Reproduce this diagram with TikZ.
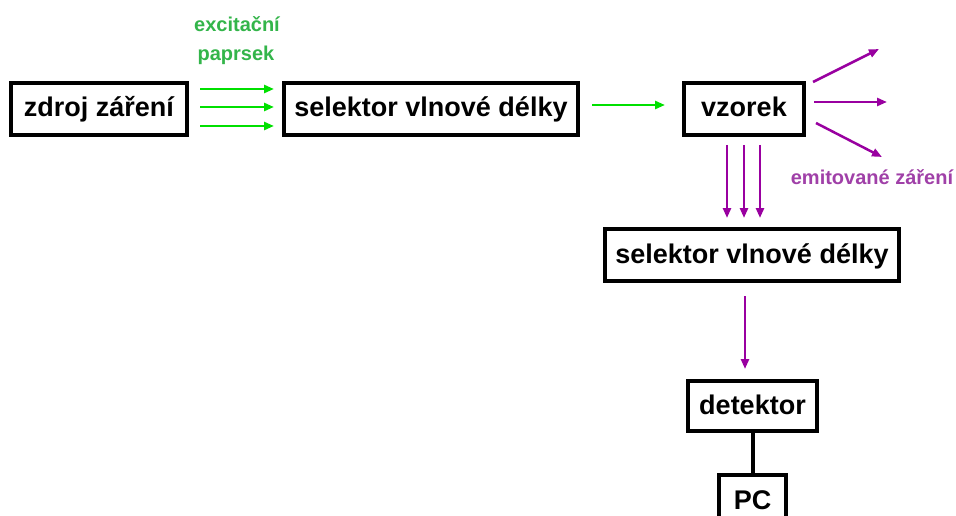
\documentclass[tikz,border=0pt]{standalone}
\usepackage{fontspec}
\setmainfont{Liberation Sans}
\usetikzlibrary{arrows.meta,calc}
\definecolor{arrgreen}{RGB}{0,224,0}
\definecolor{txtgreen}{RGB}{51,181,74}
\definecolor{arrpurple}{RGB}{153,0,160}
\definecolor{txtpurple}{RGB}{160,64,168}
\begin{document}
\begin{tikzpicture}[x=1pt,y=-1pt,
  box/.style={draw=black, line width=4pt, fill=white,
    font=\fontsize{27}{32}\selectfont\bfseries,
    text height=18pt, text depth=2pt, inner sep=0pt, minimum height=52pt},
  garrow/.style={draw=arrgreen, line width=2.5pt, -{Triangle[length=10pt,width=8pt]}},
  parrow/.style={draw=arrpurple, line width=2.5pt, -{Triangle[length=10pt,width=8pt]}},
  glabel/.style={text=txtgreen, font=\fontsize{20}{24}\selectfont\bfseries, anchor=base, inner sep=0pt},
  plabel/.style={text=txtpurple, font=\fontsize{20}{24}\selectfont\bfseries, anchor=base, inner sep=0pt}
]
\useasboundingbox (0,0) rectangle (956,516);
\fill[white] (0,0) rectangle (956,516);

% boxes
\node[box, minimum width=176pt] (z) at (99,109) {zdroj záření};
\node[box, minimum width=294pt] (s1) at (431,109) {selektor vlnové délky};
\node[box, minimum width=120pt] (v) at (744,109) {vzorek};
\node[box, minimum width=294pt] (s2) at (752,255) {selektor vlnové délky};
\node[box, minimum width=129pt, minimum height=50pt] (d) at (752.5,406) {detektor};
\node[box, minimum width=67pt, minimum height=53pt] (pc) at (752.5,501.5) {PC};

% labels
\node[glabel] (l1) at (237,32) {excitační};
\node[glabel] (l2) at (236,61) {paprsek};
\node[plabel] (l3) at (872,184) {emitované záření};

% excitation beam
\draw[garrow, shorten <=11pt, shorten >=8pt] ([yshift=20pt]z.east) -- ([yshift=20pt]s1.west);
\draw[garrow, shorten <=11pt, shorten >=8pt] ([yshift=2pt]z.east) -- ([yshift=2pt]s1.west);
\draw[garrow, shorten <=11pt, shorten >=8pt] ([yshift=-17pt]z.east) -- ([yshift=-17pt]s1.west);
\draw[garrow, shorten <=12pt, shorten >=17pt] ([yshift=4pt]s1.east) -- ([yshift=4pt]v.west);

% emitted radiation
\coordinate (e1) at (879,49);
\coordinate (e2) at (887,102);
\coordinate (e3) at (882,157);
\draw[parrow] ($(v.east)+(7,-27)$) -- (e1);
\draw[parrow] ($(v.east)+(8,-7)$) -- (e2);
\draw[parrow] ($(v.east)+(10,14)$) -- (e3);

% down to second selector
\draw[parrow] ($(v.south)+(-17,8)$) -- ($(s2.north)+(-25,-9)$);
\draw[parrow] ($(v.south)+(0,8)$) -- ($(s2.north)+(-8,-9)$);
\draw[parrow] ($(v.south)+(16,8)$) -- ($(s2.north)+(8,-9)$);

% selector to detector
\draw[parrow] ($(s2.south)+(-7,13)$) -- ($(d.north)+(-7.5,-10)$);

% detector to PC
\draw[line width=4pt] (d.south) -- (pc.north);
\end{tikzpicture}
\end{document}
